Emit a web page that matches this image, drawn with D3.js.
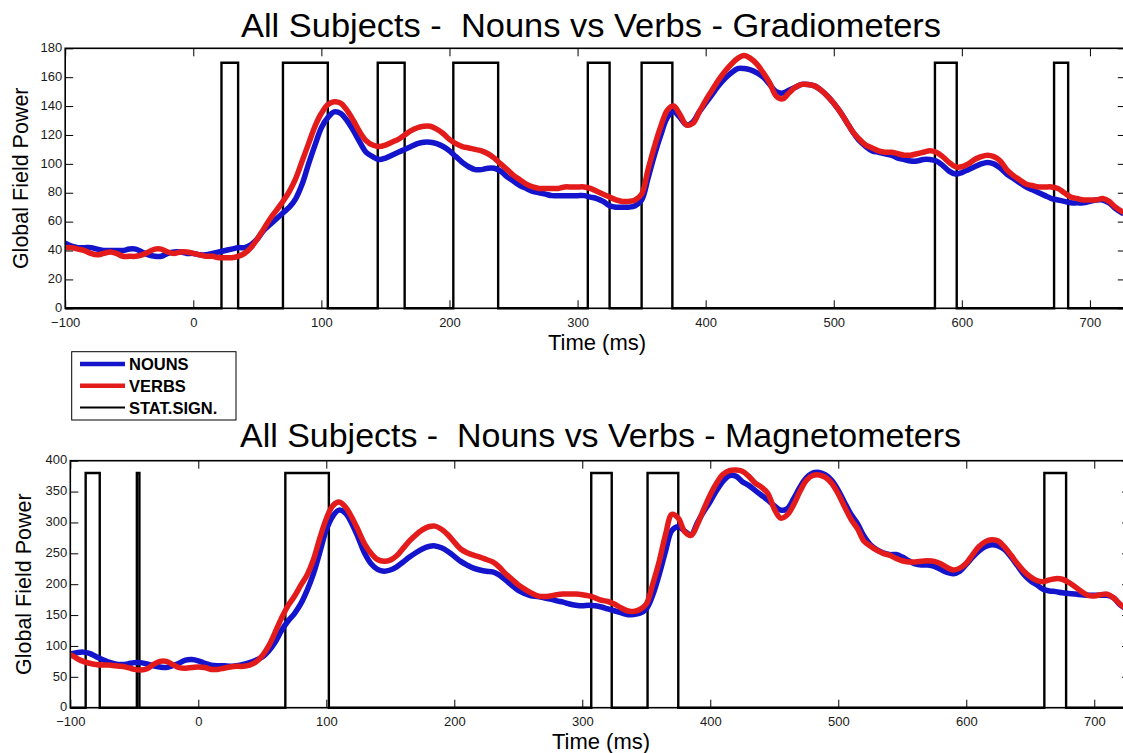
<!DOCTYPE html>
<html><head><meta charset="utf-8">
<script src="https://cdn.jsdelivr.net/npm/d3@7"></script>
<style>
html,body{margin:0;padding:0;background:#fff;}
svg{display:block;font-family:"Liberation Sans",Arial,Helvetica,sans-serif;}
</style></head><body>
<svg id="chart" width="1123" height="753"></svg>
<script>
// ---------- DATA ----------
const timeStart = -100, timeStep = 5;   // sampling grid (ms), one value per 5 ms
const xTicks = [-100, 0, 100, 200, 300, 400, 500, 600, 700];
const gradYTicks = [0, 20, 40, 60, 80, 100, 120, 140, 160, 180];
const magYTicks = [0, 50, 100, 150, 200, 250, 300, 350, 400];
const seriesNames = ["NOUNS", "VERBS", "STAT.SIGN."];
const titles = ["All Subjects -  Nouns vs Verbs - Gradiometers", "All Subjects -  Nouns vs Verbs - Magnetometers"];
const xLabel = "Time (ms)";
const yLabel = "Global Field Power";

// Gradiometers
const gradNouns = [
  45,43,42,42,42,41,40,40,40,40,41,41,39,37,36,36,38,39,39,38,
  38,37,37,38,39,40,41,42,42,44,48,54,58,62,66,70,76,86,100,113,
  125,132,136,135,130,123,115,108,105,103,104,106,108,110,112,114,115,115,114,112,
  109,105,101,98,96,96,97,97,95,91,88,85,83,81,80,79,78,78,78,78,
  78,78,77,76,74,71,70,70,70,71,75,90,106,120,132,136,132,127,129,136,
  142,148,154,159,163,166,166,165,163,160,155,150,149,151,153,155,155,154,151,147,
  142,136,129,122,116,112,109,108,107,106,104,103,102,102,103,103,102,99,95,93,
  94,96,98,100,101,100,97,93,90,87,84,82,80,78,76,75,74,73,73,73,
  74,75,75,73,69,66
];
const gradVerbs = [
  42,42,41,40,38,37,38,39,38,36,36,36,37,39,41,41,39,38,39,39,
  38,37,36,36,35,35,35,36,38,42,48,55,62,68,74,81,90,102,114,126,
  135,141,143,142,137,130,122,116,113,112,113,115,117,120,123,125,126,126,124,121,
  117,114,112,111,110,109,107,104,100,96,92,89,86,84,83,83,83,83,84,84,
  84,84,83,81,79,77,75,74,74,75,79,96,112,126,137,140,134,127,128,136,
  144,151,158,164,169,173,175,173,169,163,156,147,145,149,153,155,155,154,151,147,
  142,136,129,122,117,113,111,109,108,108,107,106,106,107,108,109,108,105,101,98,
  98,100,103,105,106,105,102,96,92,89,86,85,84,84,84,83,80,77,76,75,
  75,75,76,74,70,67
];
const gradSig = [[22,35],[70,105],[144,165],[203,238],[308,325],[350,374],[579,596],[672,683]];
const gradSigLevel = 170;

// Magnetometers
const magNouns = [
  87,89,90,88,83,78,74,71,70,71,73,73,71,68,66,65,68,72,77,78,
  76,72,69,68,68,67,68,70,73,77,82,92,106,125,140,152,168,190,217,252,
  288,310,320,315,298,275,250,233,224,221,223,228,236,244,251,257,261,262,259,253,
  245,237,231,226,223,221,220,215,207,198,190,185,181,180,178,176,173,171,168,166,
  165,166,165,163,160,157,154,151,151,153,160,182,215,253,287,293,286,280,300,318,
  334,352,367,376,375,366,360,352,344,336,327,320,322,338,357,372,380,381,377,368,
  352,332,313,298,278,264,256,251,248,248,244,238,233,231,231,229,224,219,217,221,
  232,244,254,261,264,262,256,244,230,216,206,199,192,189,188,186,185,184,183,182,
  182,182,182,178,167,160
];
const magVerbs = [
  86,80,75,72,70,69,69,68,67,65,62,61,63,70,75,75,70,65,64,65,
  66,65,62,62,64,66,67,67,69,74,84,100,122,145,165,180,198,215,240,275,
  306,327,333,325,308,287,265,250,240,237,239,246,258,270,280,288,293,294,289,280,
  268,257,251,247,244,240,236,228,217,208,199,192,186,181,180,181,183,184,184,184,
  183,181,178,174,172,168,162,157,156,159,168,200,236,280,313,307,285,279,297,322,
  345,364,378,384,385,383,375,364,357,347,322,307,312,328,350,368,376,377,373,363,
  346,325,305,290,270,262,255,250,247,242,238,236,236,237,238,237,233,227,223,226,
  234,248,261,269,272,270,260,247,233,221,212,206,204,207,209,208,203,196,188,182,
  181,183,184,178,168,160
];
const magSig = [[-88,-77],[-48,-46],[68,102],[307,323],[351,375],[661,678]];
const magSigLevel = 380;

const colors = {nouns: "#1414cc", verbs: "#e31b1b", sig: "#000000"};

// ---------- DRAW ----------
const svg = d3.select("#chart");
svg.append("rect").attr("width", 1123).attr("height", 753).attr("fill", "#fff");

function toPoints(arr) { return arr.map((v, i) => ({t: timeStart + i * timeStep, v})); }
function sigPoints(intervals, level, t0, t1) {
  const pts = [{t: t0, v: 0}];
  intervals.forEach(([a, b]) => {
    pts.push({t: a, v: 0}, {t: a, v: level}, {t: b, v: level}, {t: b, v: 0});
  });
  pts.push({t: t1, v: 0});
  return pts;
}

function panel(cfg, idx) {
  const g = svg.append("g");
  const x = d3.scaleLinear().domain([-100, 728]).range([cfg.left, cfg.right]);
  const y = d3.scaleLinear().domain([0, cfg.ymax]).range([cfg.bottom, cfg.top]);
  const clipId = "clip" + idx;
  svg.append("defs").append("clipPath").attr("id", clipId)
    .append("rect").attr("x", cfg.left).attr("y", cfg.top - 2)
    .attr("width", cfg.right - cfg.left).attr("height", cfg.bottom - cfg.top + 4);

  const line = d3.line().x(d => x(d.t)).y(d => y(d.v));
  const smooth = d3.line().x(d => x(d.t)).y(d => y(d.v)).curve(d3.curveCatmullRom.alpha(0.5));
  const plot = g.append("g").attr("clip-path", `url(#${clipId})`);

  plot.append("path").datum(sigPoints(cfg.sig, cfg.sigLevel, -100, 728))
    .attr("d", line).attr("fill", "none").attr("stroke", colors.sig)
    .attr("stroke-width", 2.4).attr("stroke-linejoin", "miter");
  plot.append("path").datum(toPoints(cfg.nouns))
    .attr("d", smooth).attr("fill", "none").attr("stroke", colors.nouns)
    .attr("stroke-width", 5.5).attr("stroke-linejoin", "round").attr("stroke-linecap", "round");
  plot.append("path").datum(toPoints(cfg.verbs))
    .attr("d", smooth).attr("fill", "none").attr("stroke", colors.verbs)
    .attr("stroke-width", 5.5).attr("stroke-linejoin", "round").attr("stroke-linecap", "round");

  // axes (MATLAB-like box with inward ticks)
  const ax = g.append("g");
  ax.append("g").attr("transform", `translate(0,${cfg.bottom})`)
    .call(d3.axisBottom(x).tickValues(xTicks).tickSizeInner(-8).tickSizeOuter(0).tickPadding(9).tickFormat(d3.format("d")));
  ax.append("g").attr("transform", `translate(0,${cfg.top})`)
    .call(d3.axisTop(x).tickValues(xTicks).tickSizeInner(-8).tickSizeOuter(0).tickFormat(""));
  const yAx = ax.append("g").attr("transform", `translate(${cfg.left},0)`)
    .call(d3.axisLeft(y).tickValues(cfg.yTicks).tickSizeInner(-8).tickSizeOuter(0).tickPadding(3).tickFormat(d3.format("d")));
  ax.append("g").attr("transform", `translate(${cfg.right},0)`)
    .call(d3.axisRight(y).tickValues(cfg.yTicks).tickSizeInner(-8).tickSizeOuter(0).tickFormat(""));
  ax.selectAll(".domain").remove();
  ax.selectAll(".tick line").attr("stroke", "#000").attr("stroke-width", 1);
  ax.selectAll(".tick text").attr("fill", "#1a1a1a").attr("font-size", 13)
    .attr("font-family", "'Liberation Sans', Arial, sans-serif");
  yAx.selectAll(".tick text").attr("dy", "0.25em");

  g.append("rect").attr("x", cfg.left).attr("y", cfg.top)
    .attr("width", cfg.right - cfg.left).attr("height", cfg.bottom - cfg.top)
    .attr("fill", "none").attr("stroke", "#000").attr("stroke-width", 1.6);

  // title
  g.append("text").attr("x", cfg.titleX).attr("y", cfg.titleY)
    .attr("font-size", 33).attr("fill", "#000").style("white-space", "pre")
    .attr("textLength", cfg.titleW).attr("lengthAdjust", "spacingAndGlyphs")
    .text(titles[idx]);
  // x label
  g.append("text").attr("x", cfg.xLabelX).attr("y", cfg.xLabelY)
    .attr("text-anchor", "middle").attr("font-size", 22).attr("fill", "#000").text(xLabel);
  // y label
  g.append("text")
    .attr("transform", `translate(${cfg.yLabelX},${(cfg.top + cfg.bottom) / 2}) rotate(-90)`)
    .attr("text-anchor", "middle").attr("dominant-baseline", "central")
    .attr("font-size", 21.5).attr("fill", "#000").text(yLabel);
}

panel({left: 65.2, right: 1125.8, top: 48.3, bottom: 308.3, ymax: 180, yTicks: gradYTicks,
  nouns: gradNouns, verbs: gradVerbs, sig: gradSig, sigLevel: gradSigLevel,
  titleX: 241, titleY: 37, titleW: 700, xLabelX: 597, xLabelY: 350, yLabelX: 21}, 0);
panel({left: 70.3, right: 1130.1, top: 460.7, bottom: 707.7, ymax: 400, yTicks: magYTicks,
  nouns: magNouns, verbs: magVerbs, sig: magSig, sigLevel: magSigLevel,
  titleX: 240, titleY: 446.5, titleW: 721, xLabelX: 601, xLabelY: 748.5, yLabelX: 24}, 1);

// legend
const lg = svg.append("g");
lg.append("rect").attr("x", 71.7).attr("y", 351.7).attr("width", 164.3).attr("height", 68.3)
  .attr("fill", "#fff").attr("stroke", "#000").attr("stroke-width", 1);
const legendItems = [
  {name: seriesNames[0], color: colors.nouns, w: 4.5},
  {name: seriesNames[1], color: colors.verbs, w: 4.5},
  {name: seriesNames[2], color: colors.sig, w: 2}
];
const ly = d3.scalePoint().domain(seriesNames).range([364, 407.5]);
legendItems.forEach(it => {
  lg.append("line").attr("x1", 80).attr("x2", 125).attr("y1", ly(it.name)).attr("y2", ly(it.name))
    .attr("stroke", it.color).attr("stroke-width", it.w);
  lg.append("text").attr("x", 129).attr("y", ly(it.name)).attr("dominant-baseline", "central")
    .attr("font-size", 16.5).attr("font-weight", "bold").attr("fill", "#000").text(it.name);
});
</script>
</body></html>
